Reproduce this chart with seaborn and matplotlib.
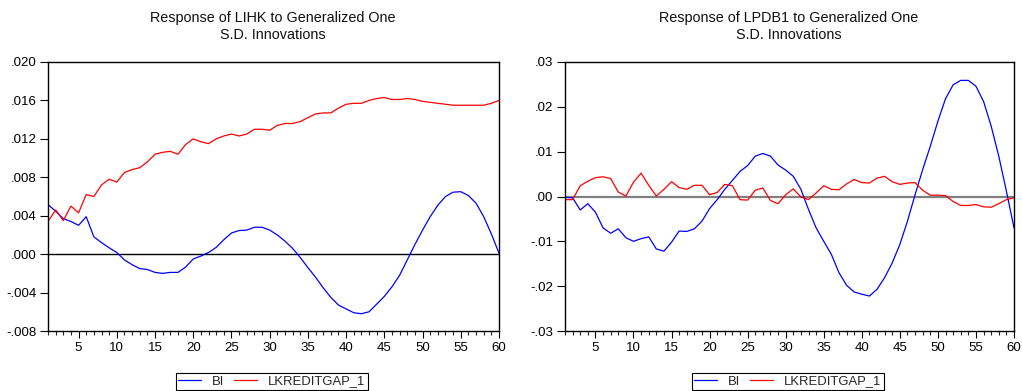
import matplotlib
matplotlib.use("Agg")
import matplotlib.pyplot as plt
import matplotlib.ticker as mticker
import seaborn as sns
import pandas as pd
import numpy as np

periods = list(range(1, 61))

lihk_bi = [0.00516, 0.00447, 0.0037, 0.0034, 0.0030, 0.0039, 0.0018, 0.0012, 0.00066, 0.00017,
           -0.0006, -0.0011, -0.0015, -0.0016, -0.0019, -0.0020, -0.0019, -0.0019, -0.00135, -0.0005,
           -0.0002, 0.00017, 0.0007, 0.0015, 0.0022, 0.00246, 0.0025, 0.0028, 0.0028, 0.0025,
           0.0020, 0.00135, 0.0006, -0.00035, -0.0014, -0.0024, -0.0035, -0.0045, -0.0053, -0.0057,
           -0.0061, -0.0062, -0.0060, -0.0052, -0.0044, -0.0034, -0.0022, -0.0006, 0.0010, 0.0025,
           0.0039, 0.0051, 0.0060, 0.00645, 0.0065, 0.0061, 0.0053, 0.0039, 0.0021, 0.0001]
lihk_kredit = [0.0034, 0.0046, 0.0035, 0.0050, 0.0043, 0.0062, 0.0060, 0.0072, 0.0078, 0.0075,
               0.0085, 0.0088, 0.0090, 0.0096, 0.0104, 0.0106, 0.0107, 0.0104, 0.0114, 0.0120,
               0.0117, 0.0115, 0.0120, 0.0123, 0.0125, 0.0123, 0.0125, 0.0130, 0.0130, 0.0129,
               0.0134, 0.0136, 0.0136, 0.0138, 0.0142, 0.0146, 0.0147, 0.0147, 0.0152, 0.0156,
               0.0157, 0.0157, 0.0160, 0.0162, 0.0163, 0.0161, 0.0161, 0.0162, 0.0161, 0.0159,
               0.0158, 0.0157, 0.0156, 0.0155, 0.0155, 0.0155, 0.0155, 0.0155, 0.0157, 0.0160]

lpdb_bi = [-0.0002, -0.0003, -0.0030, -0.0016, -0.0035, -0.0070, -0.0082, -0.0072, -0.0092, -0.0100,
           -0.0094, -0.0090, -0.0117, -0.0122, -0.0102, -0.0077, -0.0078, -0.0072, -0.0055, -0.0027,
           -0.0007, 0.0016, 0.0036, 0.0056, 0.0069, 0.0090, 0.0096, 0.0090, 0.0070, 0.0059,
           0.0045, 0.0016, -0.0029, -0.0070, -0.0100, -0.0129, -0.0170, -0.0198, -0.0213, -0.0218,
           -0.0222, -0.0207, -0.0181, -0.0148, -0.0107, -0.0055, 0.0004, 0.0060, 0.0112, 0.0168,
           0.0218, 0.0249, 0.0259, 0.0259, 0.0246, 0.0212, 0.0157, 0.0090, 0.0012, -0.0070]
lpdb_kredit = [-0.0007, -0.0007, 0.0024, 0.0034, 0.0042, 0.0044, 0.0040, 0.0010, 0.0001, 0.0032,
               0.0052, 0.0025, 0.0001, 0.0016, 0.0033, 0.0020, 0.0016, 0.0025, 0.0025, 0.0004,
               0.0009, 0.0027, 0.0024, -0.0007, -0.0008, 0.0014, 0.0019, -0.0009, -0.0016, 0.0004,
               0.0017, -0.0001, -0.0007, 0.0008, 0.0024, 0.0016, 0.0015, 0.0028, 0.0038, 0.0031,
               0.0030, 0.0041, 0.0045, 0.0033, 0.0027, 0.0030, 0.0031, 0.0014, 0.0003, 0.0003,
               0.0002, -0.0011, -0.0020, -0.0020, -0.0018, -0.0023, -0.0024, -0.0016, -0.0007, -0.0003]

series_names = ["BI", "LKREDITGAP_1"]
titles = ["Response of LIHK to Generalized One\nS.D. Innovations",
          "Response of LPDB1 to Generalized One\nS.D. Innovations"]
left_ticks = [-0.008, -0.004, 0.000, 0.004, 0.008, 0.012, 0.016, 0.020]
right_ticks = [-0.03, -0.02, -0.01, 0.00, 0.01, 0.02, 0.03]
x_ticks = list(range(5, 61, 5))

sns.set_style("ticks")
plt.rcParams['font.family'] = ['Liberation Sans', 'DejaVu Sans']

fig = plt.figure(figsize=(10.22, 3.91), dpi=100)
W, H = 1022, 391
axL = fig.add_axes([48 / W, 1 - 331 / H, (499 - 48) / W, (331 - 62) / H])
axR = fig.add_axes([565 / W, 1 - 331 / H, (1014 - 565) / W, (331 - 62) / H])

palette = {"BI": "#0000ff", "LKREDITGAP_1": "#ff0000"}


def fmt_factory(dec):
    def f(v, pos):
        s = f"{abs(v):.{dec}f}"
        if s.startswith("0"):
            s = s[1:]
        if v < 0 and float(s) != 0:
            s = "-" + s
        return s
    return f


def draw(ax, bi, kr, yticks, dec, zero_color, zero_lw, title, cx):
    df = pd.DataFrame({
        "period": periods * 2,
        "value": bi + kr,
        "series": [series_names[0]] * len(periods) + [series_names[1]] * len(periods),
    })
    ax.axhline(0, color=zero_color, lw=zero_lw, zorder=1)
    sns.lineplot(data=df, x="period", y="value", hue="series", palette=palette,
                 ax=ax, lw=0.9, legend=True, zorder=2)
    ax.set_xlim(1, 60)
    ax.set_ylim(yticks[0], yticks[-1])
    ax.set_yticks(yticks)
    ax.yaxis.set_major_formatter(mticker.FuncFormatter(fmt_factory(dec)))
    ax.set_xticks(x_ticks)
    ax.xaxis.set_minor_locator(mticker.MultipleLocator(1))
    ax.set_xlabel("")
    ax.set_ylabel("")
    for sp in ax.spines.values():
        sp.set_visible(True)
        sp.set_color("black")
        sp.set_linewidth(1.0)
    ax.tick_params(axis="x", which="major", labelsize=9.5, length=5, width=0.8,
                   direction="out", colors="black", pad=3)
    ax.tick_params(axis="y", which="major", labelsize=9.5, length=6, width=0.8,
                   direction="out", colors="black", pad=2.5)
    ax.tick_params(axis="x", which="minor", length=3, width=0.8, direction="out")
    ax.tick_params(axis="y", which="minor", length=0)
    fig.text(cx, 1 - 26.5 / H, title, ha="center", va="center", fontsize=10.4,
             linespacing=1.2, color="#111111")
    handles, labels = ax.get_legend_handles_labels()
    ax.legend(handles, labels, loc="center", ncol=2, fontsize=9.4,
              bbox_to_anchor=(cx - 1 / W, 1 - 381.5 / H), bbox_transform=fig.transFigure,
              frameon=True, fancybox=False, edgecolor="black", framealpha=1,
              handlelength=1.7, handletextpad=0.9, columnspacing=0.75,
              borderpad=0.2, borderaxespad=0, title=None)
    ax.get_legend().get_frame().set_linewidth(0.8)


draw(axL, lihk_bi, lihk_kredit, left_ticks, 3, "black", 1.0, titles[0], 273 / W)
draw(axR, lpdb_bi, lpdb_kredit, right_ticks, 2, "#808080", 1.6, titles[1], 789 / W)

fig.savefig("out.png", dpi=100)
